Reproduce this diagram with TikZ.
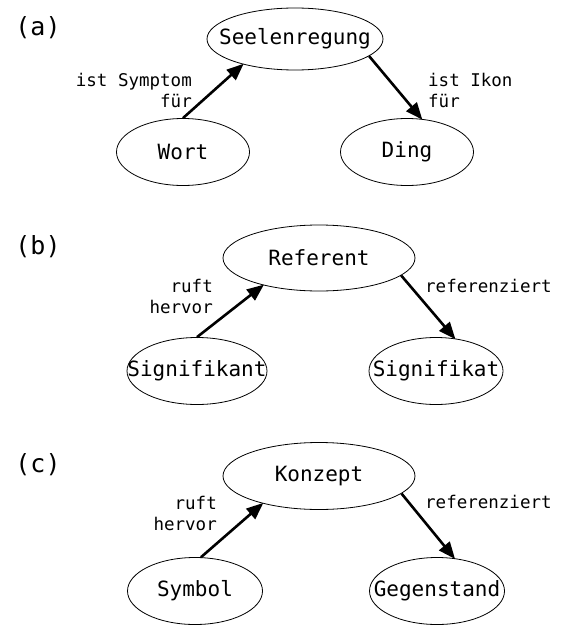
\documentclass[tikz,border=0pt]{standalone}
\usepackage{fontspec}
\setmonofont{DejaVu Sans Mono}
\usetikzlibrary{shapes.geometric,arrows.meta}
\begin{document}
\begin{tikzpicture}[x=1pt,y=-1pt,
  concept/.style={ellipse,draw,line width=0.8pt,inner sep=0pt,
    label={[font=\ttfamily\fontsize{21}{25}\selectfont,inner sep=0pt]center:#1}},
  rel/.style={font=\ttfamily\fontsize{17.5}{21}\selectfont,inner sep=0pt},
  panel/.style={font=\ttfamily\fontsize{25}{30}\selectfont,inner sep=0pt},
  link/.style={line width=2.6pt,-{Triangle[length=17pt,width=13.5pt]},shorten >=-1pt}]
\useasboundingbox (0,0) rectangle (565,626);

% (a) Aristoteles
\node[panel] (pa) at (38,28) {(a)};
\node[concept=Seelenregung,minimum width=176pt,minimum height=62pt] (seel) at (295,39) {};
\node[concept=Wort,minimum width=133pt,minimum height=67pt] (wort) at (183,152) {};
\node[concept=Ding,minimum width=133pt,minimum height=67pt] (ding) at (407,152) {};
\draw[link] (wort.north) -- (seel.206);
\draw[link] (seel.347) -- (ding.66);
\node[rel,align=right,anchor=east] (la1) at (192,90) {ist Symptom\\für};
\node[rel,align=left,anchor=west] (la2) at (428,90) {ist Ikon\\für};

% (b) Saussure
\node[panel] (pb) at (38,247) {(b)};
\node[concept=Referent,minimum width=192pt,minimum height=66pt] (ref) at (319,258) {};
\node[concept=Signifikant,minimum width=140pt,minimum height=67pt] (sigk) at (197,371) {};
\node[concept=Signifikat,minimum width=134pt,minimum height=67pt] (sigt) at (436,371) {};
\draw[link] (sigk.north) -- (ref.206);
\draw[link] (ref.348) -- (sigt.60);
\node[rel,align=right,anchor=east] (lb1) at (213,296) {ruft\\hervor};
\node[rel,align=left,anchor=west] (lb2) at (425,286) {referenziert};

% (c) Ogden/Richards
\node[panel] (pc) at (38,465) {(c)};
\node[concept=Konzept,minimum width=192pt,minimum height=67pt] (konz) at (319,476) {};
\node[concept=Symbol,minimum width=135pt,minimum height=67pt] (symb) at (195,591) {};
\node[concept=Gegenstand,minimum width=135pt,minimum height=67pt] (geg) at (437,591) {};
\draw[link] (symb.80) -- (konz.206);
\draw[link] (konz.348) -- (geg.62);
\node[rel,align=right,anchor=east] (lc1) at (217,513) {ruft\\hervor};
\node[rel,align=left,anchor=west] (lc2) at (425,502) {referenziert};
\end{tikzpicture}
\end{document}
